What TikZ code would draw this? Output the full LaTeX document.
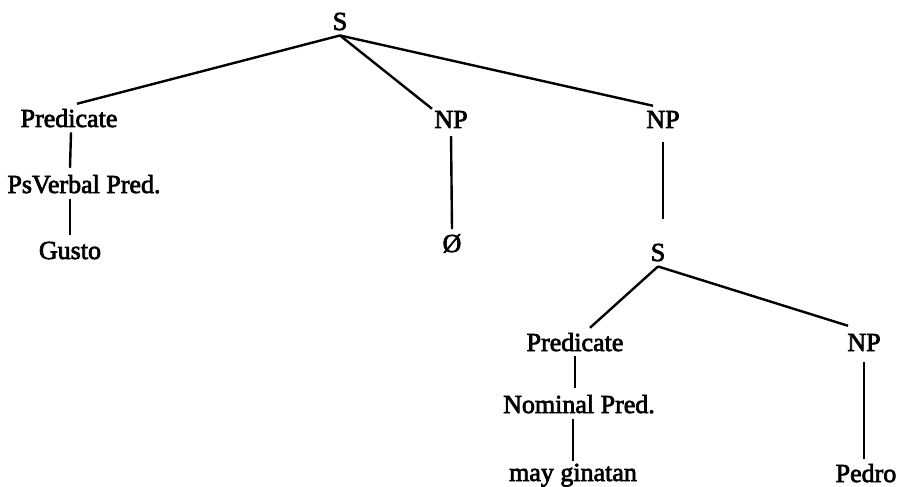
\documentclass[tikz,border=0pt]{standalone}
\usepackage{fontspec}
\setmainfont{Liberation Serif}
\newcommand{\heavytext}{\special{pdf:literal direct 2 Tr 0.7 w}}
\begin{document}
\begin{tikzpicture}[x=1pt,y=-1pt,
  lab/.style={anchor=base,inner sep=5pt,font=\fontsize{26}{30}\selectfont\heavytext},
  edge/.style={line width=2.4pt}]
\useasboundingbox (0,0) rectangle (903,487);
% nodes
\node[lab] (s1)    at (340,30)  {S};
\node[lab] (pred1) at (69,127)  {Predicate};
\node[lab] (np1)   at (451,128) {NP};
\node[lab] (np2)   at (663,128) {NP};
\node[lab] (psv)   at (84,193)  {PsVerbal Pred.};
\node[lab] (gusto) at (70,259)  {Gusto};
\node[lab] (empty) at (452,252) {Ø};
\node[lab] (s2)    at (658,261) {S};
\node[lab] (pred2) at (575,351) {Predicate};
\node[lab] (np3)   at (864,351) {NP};
\node[lab] (nom)   at (579,413) {Nominal Pred.};
\node[lab] (may)   at (573,481) {may ginatan};
\node[lab] (pedro) at (866,482) {Pedro};
% upper tree
\draw[edge] (s1.south) -- ([xshift=8pt]pred1.north);
\draw[edge] (s1.south) -- ([xshift=-19pt,yshift=-3pt]np1.north);
\draw[edge] (s1.south) -- ([xshift=-10pt]np2.north);
\draw[edge] ([xshift=2pt]pred1.south) -- ([yshift=2pt]psv.north -| gusto.north);
\draw[edge] (psv.south -| gusto.north) -- ([yshift=2pt]gusto.north);
\draw[edge,shorten <=3pt] (np1.south) -- (empty.north);
\draw[edge,shorten <=9pt,shorten >=20pt] (np2.south) -- (s2.north -| np2.south);
% lower tree
\draw[edge] (s2.south) -- ([xshift=15pt]pred2.north);
\draw[edge] (s2.south) -- ([xshift=-16pt,yshift=3pt]np3.north);
\draw[edge] (pred2.south) -- ([yshift=2pt]nom.north -| pred2.south);
\draw[edge] (nom.south -| may.north) -- ([yshift=-2pt]may.north);
\draw[edge,shorten <=6pt] (np3.south) -- (pedro.north -| np3.south);
\end{tikzpicture}
\end{document}
